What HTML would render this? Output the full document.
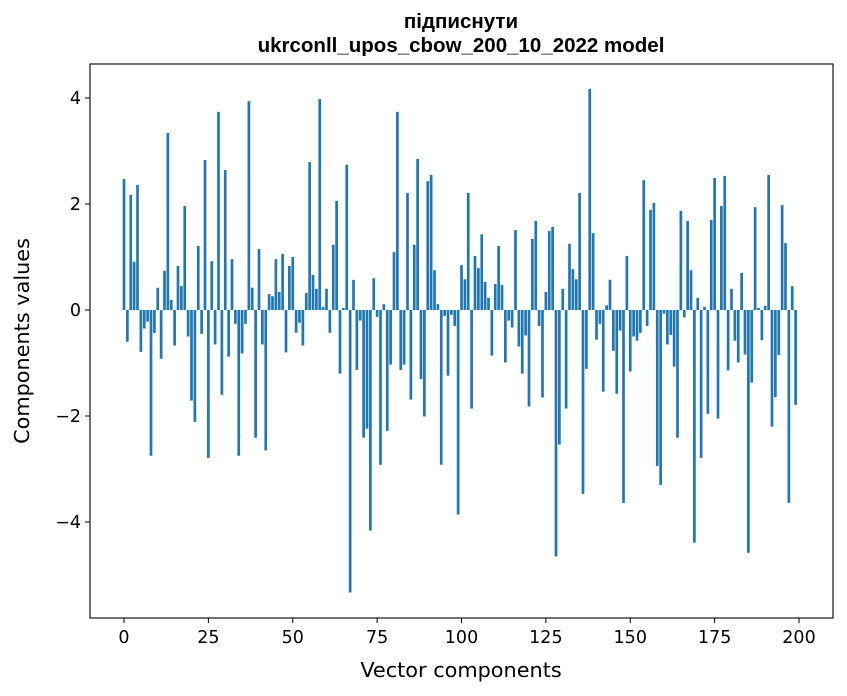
<!DOCTYPE html>
<html><head><meta charset="utf-8"><style>
html,body{margin:0;padding:0;background:#fff;}
svg{display:block;font-family:"DejaVu Sans","Liberation Sans",sans-serif;}
</style></head><body>
<svg id="chart" width="847" height="696" viewBox="0 0 847 696">
<text x="461" y="28" text-anchor="middle" font-size="20.5" font-weight="bold" font-family="Liberation Sans, sans-serif">підписнути</text>
<text x="461" y="52" text-anchor="middle" font-size="20.5" font-weight="bold" font-family="Liberation Sans, sans-serif">ukrconll_upos_cbow_200_10_2022 model</text>
<g id="bars"></g>
<rect x="90" y="64" width="743" height="554" fill="none" stroke="#000" stroke-width="1.1"/>
<g id="xaxis"></g>
<g id="yaxis"></g>
<text x="461" y="677" text-anchor="middle" font-size="20.8">Vector components</text>
<text transform="translate(29,341) rotate(-90)" text-anchor="middle" font-size="20.8">Components values</text>
</svg>
<script>
const values = [2.47,-0.60,2.17,0.91,2.36,-0.79,-0.35,-0.22,-2.75,-0.43,0.42,-0.92,0.74,3.34,0.19,-0.67,0.83,0.45,1.96,-0.50,
-1.71,-2.11,1.21,-0.45,2.83,-2.79,0.92,-0.65,3.74,-1.60,2.64,-0.88,0.96,-0.26,-2.75,-0.82,-0.26,3.94,0.42,-2.41,
1.15,-0.65,-2.65,0.30,0.26,0.96,0.34,1.06,-0.80,0.83,1.00,-0.43,-0.24,-0.67,0.32,2.79,0.66,0.40,3.98,0.06,
0.40,-0.43,1.23,2.06,-1.20,0.04,2.74,-5.33,0.57,-1.13,-0.20,-2.41,-2.24,-4.16,0.60,-0.13,-2.92,0.11,-2.28,-1.03,
1.09,3.74,-1.13,-1.03,2.21,-1.69,1.23,2.85,-1.30,-2.01,2.43,2.55,0.75,0.11,-2.92,-0.11,-1.24,-0.09,-0.30,-3.86,
0.85,0.58,2.21,-1.86,1.02,0.79,1.43,0.53,0.23,-0.86,0.49,1.21,0.47,-0.99,-0.20,-0.33,1.51,-0.69,-1.20,-0.48,
-1.82,1.34,1.68,-0.30,-1.65,0.34,1.49,1.57,-4.65,-2.54,0.40,-1.86,1.25,0.77,0.58,2.21,-3.47,-1.11,4.17,1.45,
-0.56,-0.26,-1.54,0.09,0.57,-0.77,-1.58,-0.39,-3.64,1.02,-1.16,-0.50,-0.58,-0.43,2.45,-0.30,1.89,2.02,-2.94,-3.30,
-0.07,-0.65,-0.47,-1.07,-2.41,1.87,-0.14,1.68,0.75,-4.39,0.23,-2.79,0.06,-1.96,1.70,2.49,-2.05,1.96,2.53,-1.14,
0.40,-0.58,-0.99,0.70,-0.84,-4.58,-1.37,1.94,0.04,-0.57,0.08,2.55,-2.20,-1.64,-0.85,1.98,1.26,-3.64,0.45,-1.79];
const xTicks = [0,25,50,75,100,125,150,175,200];
const yTicks = [-4,-2,0,2,4];
const yTickLabels = ["\u22124","\u22122","0","2","4"];

const NS = "http://www.w3.org/2000/svg";
const xS = v => 124 + v * 3.375;
const yS = v => 310 - v * 53;
const barsG = document.getElementById('bars');
values.forEach((v, i) => {
  const r = document.createElementNS(NS, 'rect');
  const w = 0.8 * 3.375;
  r.setAttribute('x', xS(i) - w / 2);
  r.setAttribute('width', w);
  r.setAttribute('y', Math.min(yS(v), yS(0)));
  r.setAttribute('height', Math.abs(yS(v) - yS(0)));
  r.setAttribute('fill', '#1f77b4');
  
  
  barsG.appendChild(r);
});
const xa = document.getElementById('xaxis');
xTicks.forEach(t => {
  const l = document.createElementNS(NS, 'line');
  l.setAttribute('x1', xS(t)); l.setAttribute('x2', xS(t));
  l.setAttribute('y1', 618); l.setAttribute('y2', 623);
  l.setAttribute('stroke', '#000');
  
  
  xa.appendChild(l);
  const tx = document.createElementNS(NS, 'text');
  tx.setAttribute('x', xS(t)); tx.setAttribute('y', 643);
  tx.setAttribute('text-anchor', 'middle'); tx.setAttribute('font-size', '17.5');
  tx.textContent = t;
  
  
  xa.appendChild(tx);
});
const ya = document.getElementById('yaxis');
yTicks.forEach((t, k) => {
  const l = document.createElementNS(NS, 'line');
  l.setAttribute('x1', 85); l.setAttribute('x2', 90);
  l.setAttribute('y1', yS(t)); l.setAttribute('y2', yS(t));
  l.setAttribute('stroke', '#000');
  
  
  ya.appendChild(l);
  const tx = document.createElementNS(NS, 'text');
  tx.setAttribute('x', 81); tx.setAttribute('y', yS(t) + 6);
  tx.setAttribute('text-anchor', 'end'); tx.setAttribute('font-size', '17.5');
  tx.textContent = yTickLabels[k];
  
  
  ya.appendChild(tx);
});
</script>
</body></html>
